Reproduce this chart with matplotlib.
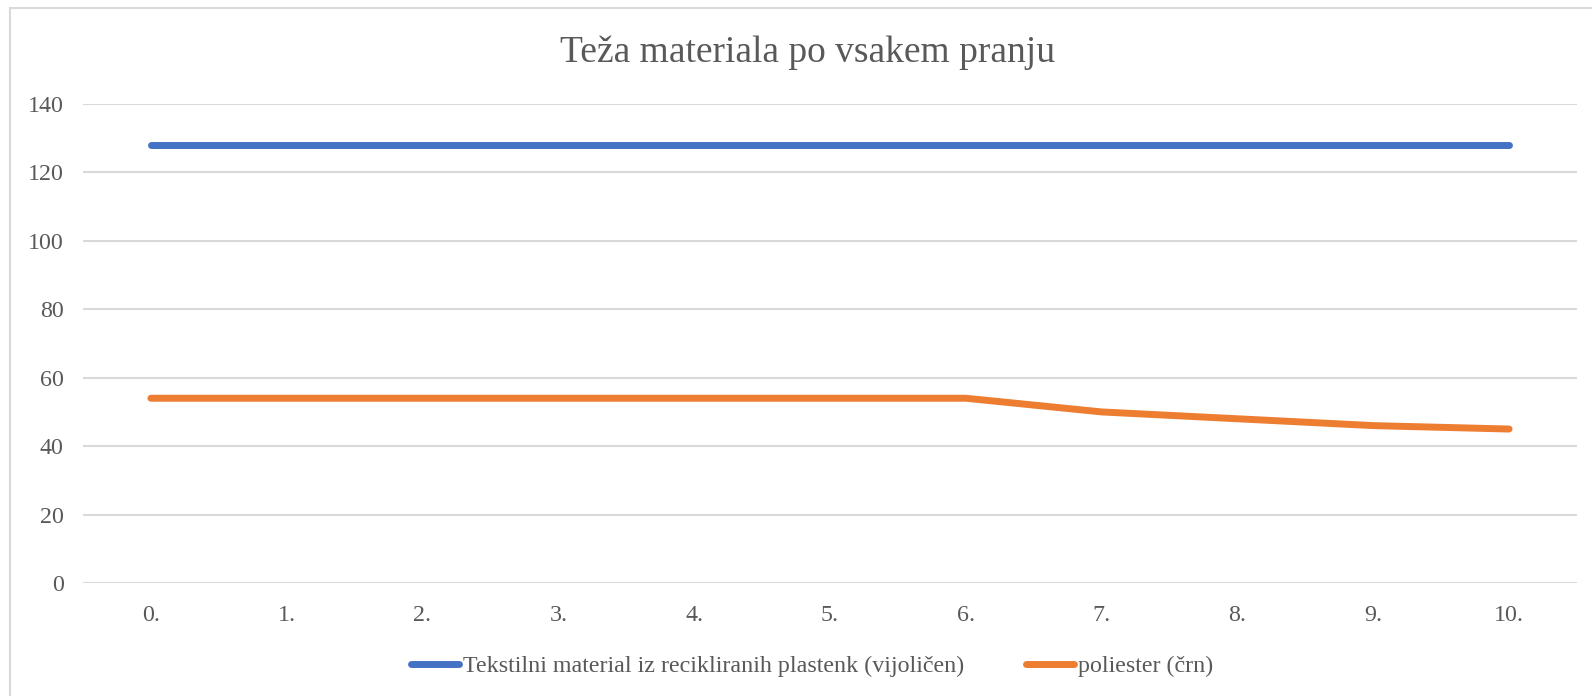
import matplotlib
matplotlib.use("Agg")
from matplotlib import pyplot as plt
from matplotlib.patches import Rectangle

# data
categories = ["0.", "1.", "2.", "3.", "4.", "5.", "6.", "7.", "8.", "9.", "10."]
recycled = [128, 128, 128, 128, 128, 128, 128, 128, 128, 128, 128]
polyester = [54, 54, 54, 54, 54, 54, 54, 50, 48, 46, 45]
series_names = ["Tekstilni material iz recikliranih plastenk (vijoličen)", "poliester (črn)"]
title = "Teža materiala po vsakem pranju"

W, H = 1592, 696
plt.rcParams['font.family'] = ['Liberation Serif', 'DejaVu Serif']
text_col = "#595959"

fig = plt.figure(figsize=(W / 100, H / 100), dpi=100)
ax = fig.add_axes([83 / W, 1 - 583 / H, (1577 - 83) / W, (583 - 104) / H])

x = list(range(len(categories)))
ax.plot(x, recycled, color="#4472C4", lw=5, solid_capstyle="round", label=series_names[0], zorder=3)
ax.plot(x, polyester, color="#ED7D31", lw=5, solid_capstyle="round", label=series_names[1], zorder=3)

ax.set_xlim(-0.5, len(categories) - 0.5)
ax.set_ylim(0, 140)
ax.set_yticks(range(0, 141, 20))
ax.set_xticks(x)
ax.set_xticklabels(categories)
ax.grid(axis="y", color="#D9D9D9", lw=1.5)
ax.set_axisbelow(True)
for s in ax.spines.values():
    s.set_visible(False)
ax.tick_params(length=0, labelsize=17.3, labelcolor=text_col)
ax.tick_params(axis="y", pad=14)
ax.tick_params(axis="x", pad=16)

fig.text(808 / W, 1 - 53 / H, title, ha="center", va="center", fontsize=27, color=text_col)

fig.legend(loc="center", bbox_to_anchor=(812 / W, 1 - 666 / H), ncol=2, frameon=False,
           fontsize=17.3, labelcolor=text_col, handlelength=2.0, handletextpad=0.15,
           columnspacing=2.6)

# chart border (only left and top edges fall inside the picture)
fig.patches.append(Rectangle((9.5 / W, -0.1), 1.2, 1 - 7.5 / H + 0.1, transform=fig.transFigure,
                             fill=False, edgecolor="#D9D9D9", lw=1.5))

fig.savefig("out.png", dpi=100)
